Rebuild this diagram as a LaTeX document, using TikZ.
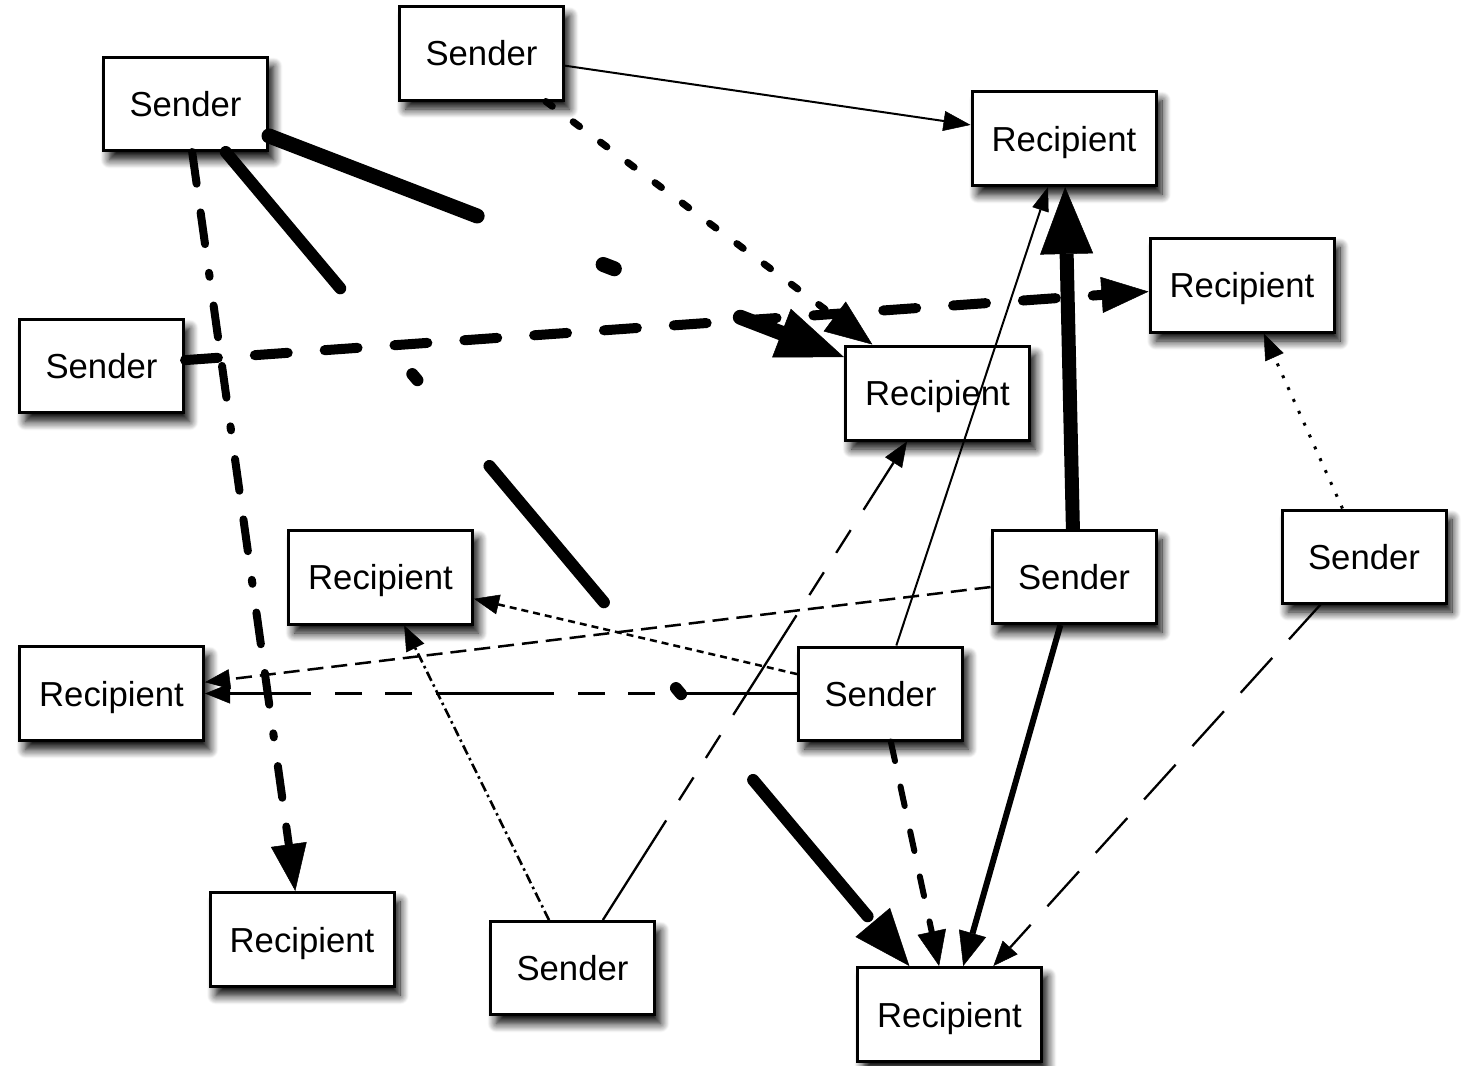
\documentclass[tikz,border=0pt]{standalone}
\usepackage{fontspec}
\setmainfont{Liberation Sans}
\usetikzlibrary{arrows.meta,shadows.blur}
\begin{document}
\begin{tikzpicture}[x=1pt,y=-1pt,
  box/.style={draw=black, line width=3pt, fill=white, inner sep=0pt,
    font=\fontsize{34.7pt}{40pt}\selectfont, text height=25pt, text depth=0pt,
    blur shadow={shadow xshift=6pt, shadow yshift=-9pt, shadow blur radius=9pt, shadow opacity=100, shadow blur steps=12}},
  snd/.style={box, minimum width=164pt, minimum height=93pt},
  rcp/.style={box, minimum width=184pt, minimum height=94pt},
  ah/.style 2 args={-{Triangle[length=#1pt,width=#2pt,line width=0.5pt]}},
  rnd/.style={line cap=round}
]
\useasboundingbox (0,0) rectangle (1461,1065);
% senders
\node[snd] (S1) at (185.5,104)   {Sender};
\node[snd] (S2) at (481.5,53.5)  {Sender};
\node[snd] (S3) at (101.5,366)   {Sender};
\node[snd] (S4) at (1074,577)    {Sender};
\node[snd] (S5) at (1364,556.5)  {Sender};
\node[snd] (S6) at (880.5,693.5) {Sender};
\node[snd] (S7) at (572.5,968)   {Sender};
% recipients
\node[rcp] (R1) at (1064,138.5)  {Recipient};
\node[rcp] (R2) at (1242,285)    {Recipient};
\node[rcp] (R3) at (937.5,393)   {Recipient};
\node[rcp] (R4) at (380.5,577)   {Recipient};
\node[rcp] (R5) at (111.5,693.5) {Recipient};
\node[rcp] (R6) at (302,939.5)   {Recipient};
\node[rcp] (R7) at (949.5,1014.5){Recipient};
% connectors
\draw[line width=2pt, ah={27}{20}] (S2) -- (R1);
\draw[line width=7pt, rnd, dash pattern=on 8pt off 26pt, ah={47}{37}] (S2) -- (R3);
\draw[line width=15pt, rnd, dash pattern=on 223pt off 135pt on 12pt off 135pt, ah={67}{52}] (S1) -- (R3);
\draw[line width=12pt, rnd, dash pattern=on 178pt off 112pt on 8pt off 112pt, ah={57}{45}] (S1) -- (R7);
\draw[line width=8pt, rnd, dash pattern=on 32pt off 29pt on 32pt off 29pt on 4pt off 29pt, ah={47}{36}] (S1) -- (R6);
\draw[line width=10pt, rnd, dash pattern=on 33pt off 37pt, ah={47}{36}] (S3) -- (R2);
\draw[line width=14pt, ah={67}{53}] (S4) -- (R1);
\draw[line width=2.5pt, dash pattern=on 16pt off 8pt, ah={25}{20}] (S4) -- (R5);
\draw[line width=6pt, ah={34}{28}] (S4) -- (R7);
\draw[line width=3pt, dash pattern=on 3pt off 10pt, ah={26}{20}] (S5) -- (R2);
\draw[line width=2.3pt, dash pattern=on 47pt off 25pt, ah={25}{20}] (S5) -- (R7);
\draw[line width=2pt, ah={24}{17}] (S6) -- (R1);
\draw[line width=2.5pt, dash pattern=on 7pt off 5pt, ah={25}{20}] (S6) -- (R4);
\draw[line width=2.3pt, dash pattern=on 118pt off 24pt on 27pt off 23pt on 27pt off 24pt, ah={25}{20}] (S6) -- (R5);
\draw[line width=6pt, rnd, dash pattern=on 20pt off 26pt, ah={35}{29}] (S6) -- (R7);
\draw[line width=2.3pt, dash pattern=on 118pt off 24pt on 27pt off 23pt on 27pt off 24pt, ah={25}{20}] (S7) -- (R3);
\draw[line width=2.6pt, dash pattern=on 10pt off 4pt on 2.5pt off 4pt, ah={25}{20}] (S7) -- (R4);
\end{tikzpicture}
\end{document}
